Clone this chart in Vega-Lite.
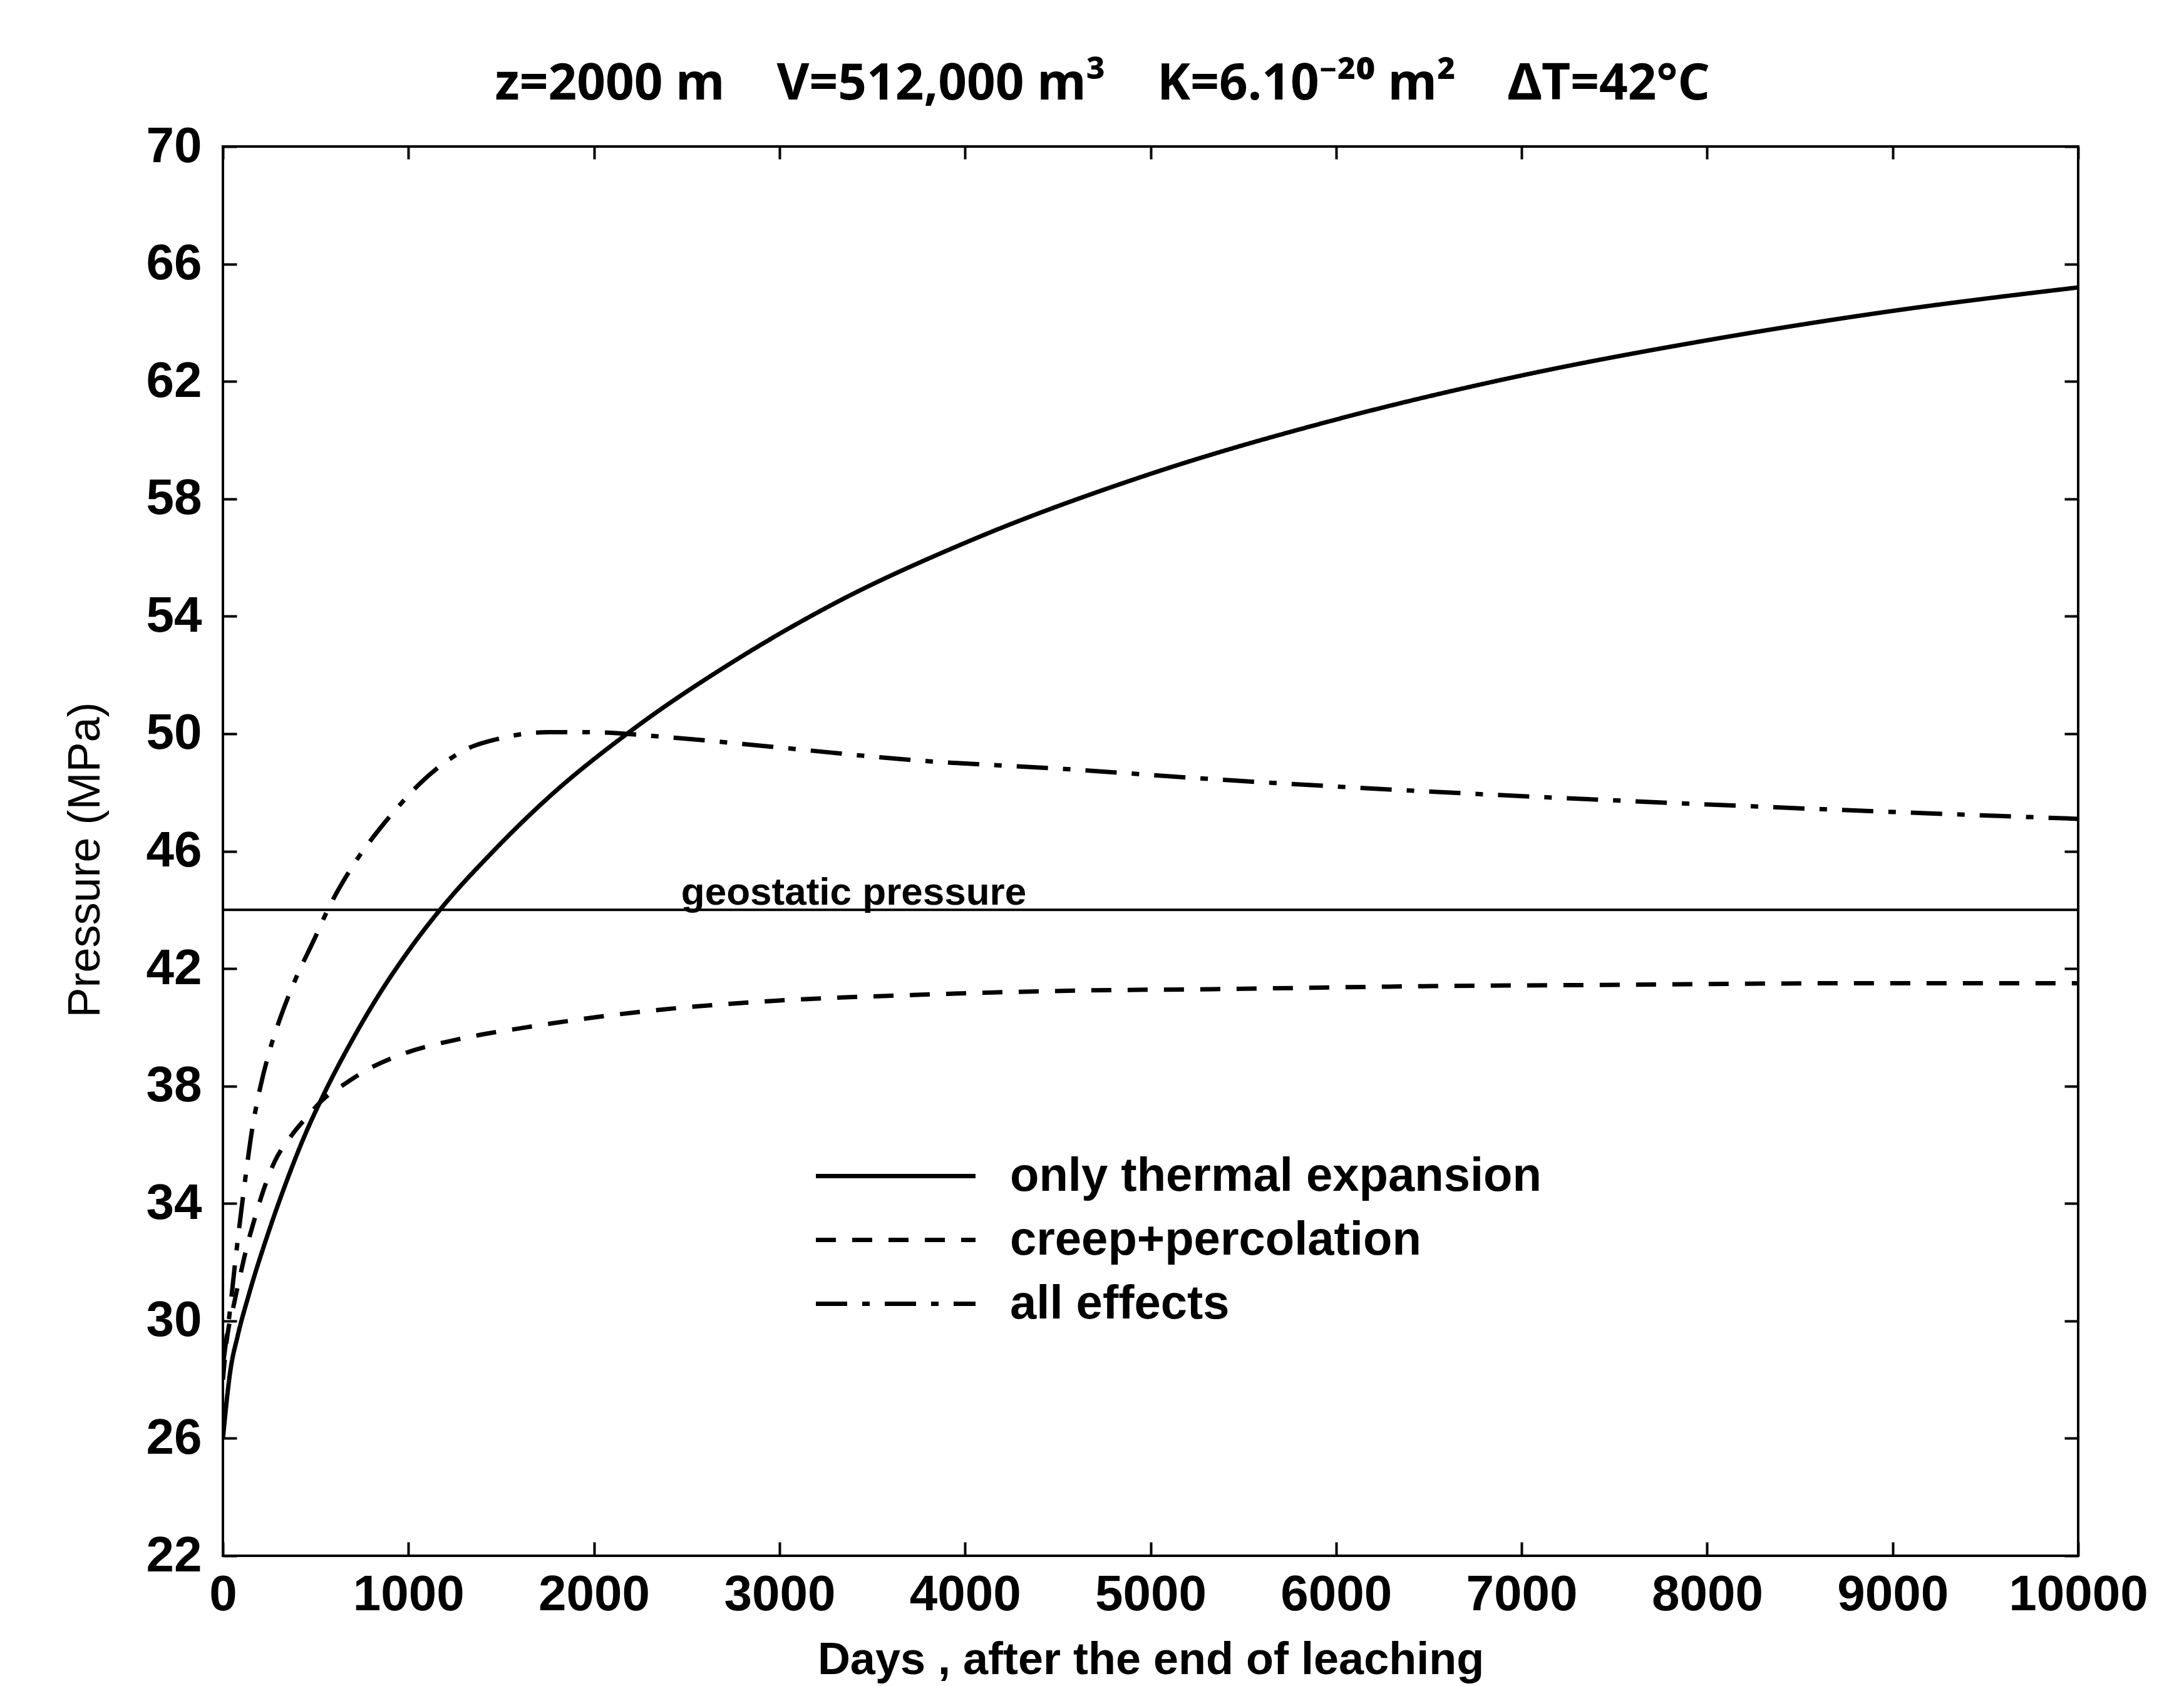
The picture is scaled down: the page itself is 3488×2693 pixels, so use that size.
{
  "$schema": "https://vega.github.io/schema/vega-lite/v6.json",
  "width": 2963,
  "height": 2251,
  "autosize": {"type": "none"},
  "padding": {"left": 356, "top": 234, "right": 169, "bottom": 208},
  "background": "white",
  "title": {
    "text": "z=2000 m\u00a0\u00a0\u00a0 V=512,000 m³\u00a0\u00a0\u00a0 K=6.10⁻²⁰ m²\u00a0\u00a0\u00a0 ΔT=42°C",
    "font": "Noto Sans",
    "fontSize": 80,
    "fontWeight": "bold",
    "color": "black",
    "anchor": "middle",
    "baseline": "bottom",
    "offset": 62,
    "dx": -77,
    "dy": 124
  },
  "config": {
    "view": {"stroke": "black", "strokeWidth": 4},
    "axis": {
      "domain": false,
      "grid": false,
      "tickColor": "black",
      "tickWidth": 4,
      "labelColor": "black",
      "titleColor": "black",
      "labelFont": "Liberation Sans",
      "titleFont": "Liberation Sans",
      "labelFontWeight": "bold",
      "titleFontWeight": "bold",
      "labelOverlap": false,
      "labelFlush": false,
      "labelLimit": 0
    },
    "legend": {
      "orient": "none",
      "legendX": 1020,
      "legendY": 1590,
      "padding": 0,
      "symbolType": "M-2.5,0H2.5",
      "symbolSize": 10404,
      "symbolStrokeWidth": 7,
      "symbolStrokeColor": "black",
      "labelFont": "Liberation Sans",
      "labelFontSize": 76,
      "labelFontWeight": "bold",
      "labelColor": "black",
      "labelOffset": 128,
      "labelLimit": 0,
      "rowPadding": 9
    }
  },
  "datasets": {
    "curves": [
      {"series": "only thermal expansion", "days": 0, "p": 26.0},
      {"series": "only thermal expansion", "days": 40, "p": 28.3},
      {"series": "only thermal expansion", "days": 80, "p": 29.5},
      {"series": "only thermal expansion", "days": 140, "p": 30.9},
      {"series": "only thermal expansion", "days": 250, "p": 33.1},
      {"series": "only thermal expansion", "days": 340, "p": 34.7},
      {"series": "only thermal expansion", "days": 440, "p": 36.3},
      {"series": "only thermal expansion", "days": 550, "p": 37.8},
      {"series": "only thermal expansion", "days": 700, "p": 39.6},
      {"series": "only thermal expansion", "days": 850, "p": 41.2},
      {"series": "only thermal expansion", "days": 1000, "p": 42.6},
      {"series": "only thermal expansion", "days": 1170, "p": 44.0},
      {"series": "only thermal expansion", "days": 1450, "p": 45.95},
      {"series": "only thermal expansion", "days": 1750, "p": 47.8},
      {"series": "only thermal expansion", "days": 2200, "p": 50.1},
      {"series": "only thermal expansion", "days": 2750, "p": 52.45},
      {"series": "only thermal expansion", "days": 3300, "p": 54.45},
      {"series": "only thermal expansion", "days": 4000, "p": 56.5},
      {"series": "only thermal expansion", "days": 5000, "p": 58.85},
      {"series": "only thermal expansion", "days": 6000, "p": 60.7},
      {"series": "only thermal expansion", "days": 7000, "p": 62.2},
      {"series": "only thermal expansion", "days": 8000, "p": 63.4},
      {"series": "only thermal expansion", "days": 9000, "p": 64.4},
      {"series": "only thermal expansion", "days": 10000, "p": 65.2},
      {"series": "creep+percolation", "days": 0, "p": 28.0},
      {"series": "creep+percolation", "days": 20, "p": 29.3},
      {"series": "creep+percolation", "days": 57, "p": 30.5},
      {"series": "creep+percolation", "days": 88, "p": 31.4},
      {"series": "creep+percolation", "days": 128, "p": 32.5},
      {"series": "creep+percolation", "days": 172, "p": 33.5},
      {"series": "creep+percolation", "days": 216, "p": 34.4},
      {"series": "creep+percolation", "days": 277, "p": 35.4},
      {"series": "creep+percolation", "days": 368, "p": 36.3},
      {"series": "creep+percolation", "days": 460, "p": 37.0},
      {"series": "creep+percolation", "days": 550, "p": 37.6},
      {"series": "creep+percolation", "days": 640, "p": 38.0},
      {"series": "creep+percolation", "days": 791, "p": 38.6},
      {"series": "creep+percolation", "days": 973, "p": 39.1},
      {"series": "creep+percolation", "days": 1274, "p": 39.6},
      {"series": "creep+percolation", "days": 1636, "p": 40.0},
      {"series": "creep+percolation", "days": 2211, "p": 40.5},
      {"series": "creep+percolation", "days": 2965, "p": 40.9},
      {"series": "creep+percolation", "days": 3719, "p": 41.1},
      {"series": "creep+percolation", "days": 4594, "p": 41.25},
      {"series": "creep+percolation", "days": 5338, "p": 41.3},
      {"series": "creep+percolation", "days": 6471, "p": 41.4},
      {"series": "creep+percolation", "days": 7600, "p": 41.45},
      {"series": "creep+percolation", "days": 8732, "p": 41.5},
      {"series": "creep+percolation", "days": 10000, "p": 41.5},
      {"series": "all effects", "days": 0, "p": 28.5},
      {"series": "all effects", "days": 37, "p": 30.3},
      {"series": "all effects", "days": 68, "p": 32.1},
      {"series": "all effects", "days": 98, "p": 33.7},
      {"series": "all effects", "days": 128, "p": 35.2},
      {"series": "all effects", "days": 157, "p": 36.5},
      {"series": "all effects", "days": 203, "p": 38.0},
      {"series": "all effects", "days": 247, "p": 39.1},
      {"series": "all effects", "days": 308, "p": 40.3},
      {"series": "all effects", "days": 382, "p": 41.5},
      {"series": "all effects", "days": 500, "p": 43.1},
      {"series": "all effects", "days": 565, "p": 44.0},
      {"series": "all effects", "days": 700, "p": 45.5},
      {"series": "all effects", "days": 850, "p": 46.8},
      {"series": "all effects", "days": 957, "p": 47.6},
      {"series": "all effects", "days": 1061, "p": 48.3},
      {"series": "all effects", "days": 1214, "p": 49.1},
      {"series": "all effects", "days": 1305, "p": 49.45},
      {"series": "all effects", "days": 1500, "p": 49.85},
      {"series": "all effects", "days": 1750, "p": 50.05},
      {"series": "all effects", "days": 2000, "p": 50.05},
      {"series": "all effects", "days": 2360, "p": 49.9},
      {"series": "all effects", "days": 2965, "p": 49.55},
      {"series": "all effects", "days": 3719, "p": 49.1},
      {"series": "all effects", "days": 4533, "p": 48.8},
      {"series": "all effects", "days": 5338, "p": 48.45},
      {"series": "all effects", "days": 6471, "p": 48.04},
      {"series": "all effects", "days": 7600, "p": 47.7},
      {"series": "all effects", "days": 8732, "p": 47.4},
      {"series": "all effects", "days": 10000, "p": 47.1}
    ],
    "geostatic": [
      {"days": 2470, "p": 44, "label": "geostatic pressure"}
    ]
  },
  "layer": [
    {
      "data": {"name": "curves"},
      "mark": {"type": "line", "color": "black", "strokeWidth": 7, "interpolate": "monotone", "clip": true},
      "encoding": {
        "x": {
          "field": "days",
          "type": "quantitative",
          "scale": {"domain": [0, 10000], "nice": false, "zero": false},
          "axis": {
            "orient": "bottom",
            "values": [0, 1000, 2000, 3000, 4000, 5000, 6000, 7000, 8000, 9000, 10000],
            "format": "d",
            "tickSize": -22,
            "labelPadding": 45,
            "labelFontSize": 80,
            "title": "Days , after the end of leaching",
            "titleFontSize": 72,
            "titleY": 188,
            "titleBaseline": "alphabetic"
          }
        },
        "y": {
          "field": "p",
          "type": "quantitative",
          "scale": {"domain": [22, 70], "nice": false, "zero": false},
          "axis": {
            "orient": "left",
            "values": [22, 26, 30, 34, 38, 42, 46, 50, 54, 58, 62, 66, 70],
            "tickSize": -22,
            "labelPadding": 56,
            "labelFontSize": 80,
            "title": "Pressure (MPa)",
            "titleFontSize": 72,
            "titleFontWeight": "normal",
            "titleX": -198,
            "titleY": 1139,
            "titleBaseline": "alphabetic"
          }
        },
        "strokeDash": {
          "field": "series",
          "type": "nominal",
          "scale": {
            "domain": ["only thermal expansion", "creep+percolation", "all effects"],
            "range": [[1, 0], [32, 26], [50, 24, 12, 24]]
          },
          "legend": {"title": null}
        },
        "detail": {"field": "series"}
      }
    },
    {
      "data": {"name": "geostatic"},
      "mark": {"type": "rule", "color": "black", "strokeWidth": 4},
      "encoding": {
        "y": {
          "field": "p",
          "type": "quantitative",
          "axis": {
            "orient": "right",
            "values": [22, 26, 30, 34, 38, 42, 46, 50, 54, 58, 62, 66, 70],
            "tickSize": -22,
            "labels": false,
            "title": null
          }
        }
      }
    },
    {
      "data": {"name": "geostatic"},
      "mark": {"type": "text", "color": "black", "font": "Liberation Sans", "fontWeight": "bold", "fontSize": 62, "align": "left", "baseline": "alphabetic", "dy": -8},
      "encoding": {
        "x": {
          "field": "days",
          "type": "quantitative",
          "axis": {
            "orient": "top",
            "values": [0, 1000, 2000, 3000, 4000, 5000, 6000, 7000, 8000, 9000, 10000],
            "tickSize": -20,
            "labels": false,
            "title": null
          }
        },
        "y": {"field": "p", "type": "quantitative", "axis": null},
        "text": {"field": "label"}
      }
    }
  ]
}
